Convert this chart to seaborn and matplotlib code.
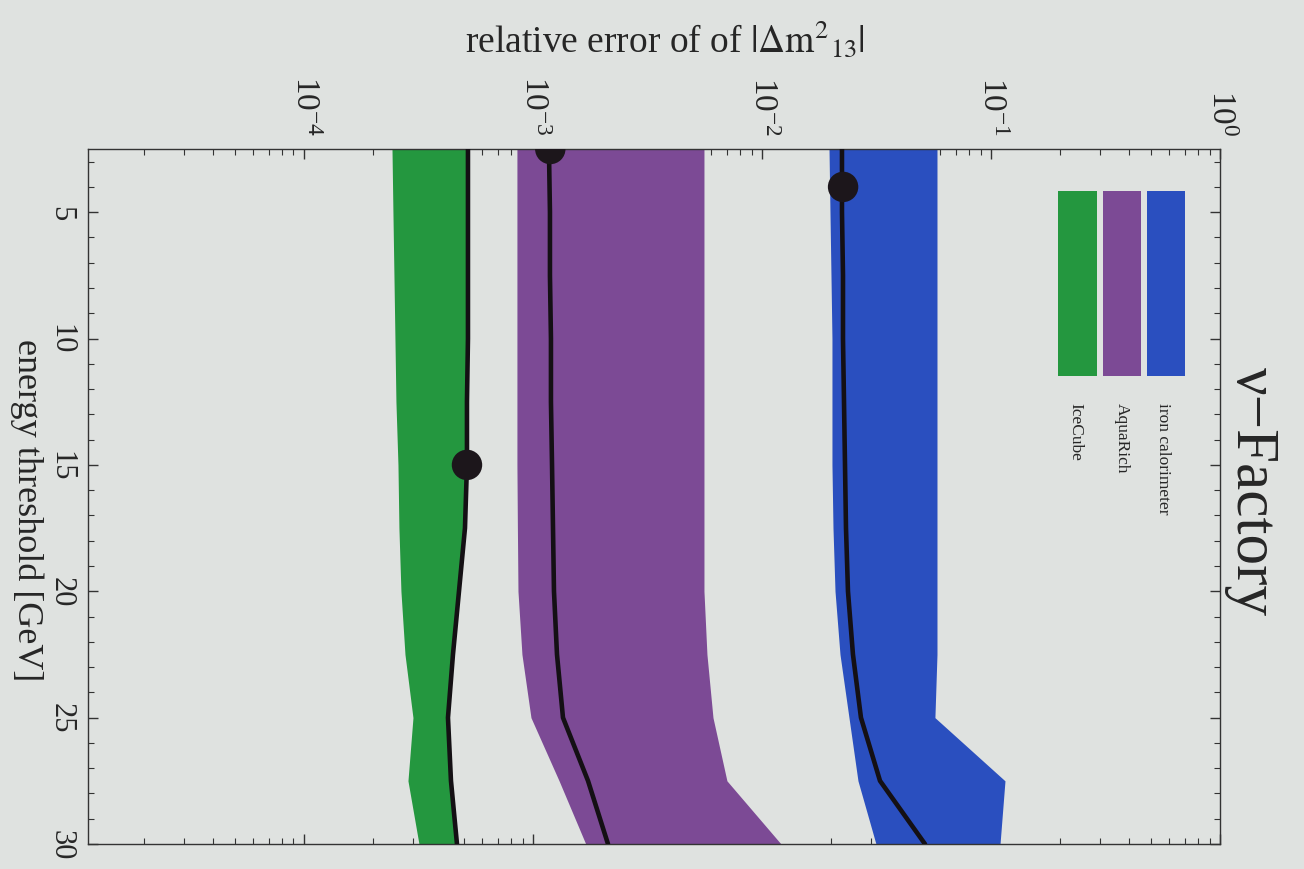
import numpy as np
import pandas as pd
import matplotlib
matplotlib.use("Agg")
import matplotlib.pyplot as plt
import seaborn as sns
from matplotlib.ticker import LogLocator, MultipleLocator, LogFormatterMathtext, NullFormatter, FixedLocator
from matplotlib.patches import Rectangle

# ---------------- data ----------------
energy = [2.5, 5, 7.5, 10, 12.5, 15, 17.5, 20, 22.5, 25, 27.5, 30]

iron_low  = [1.962e-2, 1.981e-2, 2.001e-2, 2.021e-2, 2.021e-2, 2.021e-2, 2.042e-2, 2.084e-2, 2.191e-2, 2.398e-2, 2.625e-2, 3.146e-2]
iron_mid  = [2.235e-2, 2.235e-2, 2.258e-2, 2.258e-2, 2.281e-2, 2.304e-2, 2.327e-2, 2.374e-2, 2.496e-2, 2.705e-2, 3.276e-2, 5.149e-2]
iron_high = [5.81e-2, 5.81e-2, 5.81e-2, 5.81e-2, 5.81e-2, 5.81e-2, 5.81e-2, 5.81e-2, 5.81e-2, 5.69e-2, 1.151e-1, 1.095e-1]

aqua_low  = [8.51e-4, 8.51e-4, 8.51e-4, 8.51e-4, 8.51e-4, 8.51e-4, 8.55e-4, 8.60e-4, 8.95e-4, 9.80e-4, 1.300e-3, 1.700e-3]
aqua_mid  = [1.174e-3, 1.186e-3, 1.186e-3, 1.198e-3, 1.198e-3, 1.211e-3, 1.223e-3, 1.235e-3, 1.273e-3, 1.352e-3, 1.739e-3, 2.126e-3]
aqua_high = [5.58e-3, 5.58e-3, 5.58e-3, 5.58e-3, 5.58e-3, 5.58e-3, 5.58e-3, 5.58e-3, 5.75e-3, 6.11e-3, 7.03e-3, 1.211e-2]

ice_low   = [2.423e-4, 2.446e-4, 2.471e-4, 2.496e-4, 2.521e-4, 2.573e-4, 2.598e-4, 2.651e-4, 2.761e-4, 2.992e-4, 2.845e-4, 3.178e-4]
ice_mid   = [5.201e-4, 5.201e-4, 5.201e-4, 5.201e-4, 5.149e-4, 5.149e-4, 5.047e-4, 4.752e-4, 4.473e-4, 4.254e-4, 4.384e-4, 4.657e-4]

detectors = ["iron calorimeter", "AquaRich", "IceCube"]
dot_energy = [4.0, 2.5, 15.0]
dot_value = [2.26e-2, 1.19e-3, 5.15e-4]

x_ticks = [1e-4, 1e-3, 1e-2, 1e-1, 1e0]
y_ticks = [5, 10, 15, 20, 25, 30]

colors = {"iron calorimeter": "#2a4fbf", "AquaRich": "#7c4a95", "IceCube": "#24973f"}
bg = "#dfe2e0"

# ---------------- style ----------------
sns.set_theme(style="ticks")
plt.rcParams["font.family"] = ["Liberation Serif", "DejaVu Serif"]
plt.rcParams["mathtext.fontset"] = "stix"

fig = plt.figure(figsize=(13.04, 8.70), dpi=100, facecolor=bg)
ax = fig.add_axes([88 / 1304, 1 - 845 / 870, (1220 - 88) / 1304, (845 - 150) / 870])
ax.set_facecolor(bg)

bands = {
    "iron calorimeter": (iron_low, iron_mid, iron_high),
    "AquaRich": (aqua_low, aqua_mid, aqua_high),
    "IceCube": (ice_low, ice_mid, ice_mid),
}

rows = []
for name, (lo, mid, hi) in bands.items():
    ax.fill_betweenx(energy, lo, hi, color=colors[name], lw=0, zorder=1)
    for e, m in zip(energy, mid):
        rows.append({"detector": name, "energy": e, "value": m})
df = pd.DataFrame(rows)

sns.lineplot(data=df, x="value", y="energy", units="detector", estimator=None,
             orient="y", sort=False, color="#141014", lw=3.3, ax=ax, zorder=3)

dots = pd.DataFrame({"detector": detectors, "energy": dot_energy, "value": dot_value})
sns.scatterplot(data=dots, x="value", y="energy", color="#1c161b", s=480,
                edgecolor="none", ax=ax, zorder=4, clip_on=True, legend=False)

ax.set_xscale("log")
ax.set_xlim(1.14e-5, 1.0)
ax.set_ylim(30, 2.5)

# ticks
ax.xaxis.set_major_locator(FixedLocator(x_ticks))
ax.xaxis.set_minor_locator(LogLocator(base=10, subs=np.arange(2, 10), numticks=20))
ax.xaxis.set_major_formatter(LogFormatterMathtext())
ax.xaxis.set_minor_formatter(NullFormatter())
ax.yaxis.set_major_locator(FixedLocator(y_ticks))
ax.yaxis.set_minor_locator(MultipleLocator(1))

ax.tick_params(which="both", direction="in", top=True, bottom=True, left=True, right=True,
               color="#333333")
ax.tick_params(which="major", length=7, width=1)
ax.tick_params(which="minor", length=4, width=0.8)
ax.tick_params(axis="x", labeltop=True, labelbottom=False, labelsize=24, pad=10)
ax.tick_params(axis="y", labelsize=22, pad=9)
for lab in ax.get_xticklabels():
    lab.set_rotation(-90)
    lab.set_va("bottom")
    lab.set_ha("center")
for lab in ax.get_yticklabels():
    lab.set_rotation(-90)
    lab.set_va("center")
    lab.set_ha("right")

for sp in ax.spines.values():
    sp.set_color("#333333")
    sp.set_linewidth(1.0)

ax.xaxis.set_label_position("top")
ax.set_xlabel(r"relative error of of $|\Delta\mathrm{m}^{2}{}_{13}|$", fontsize=27)
ax.xaxis.set_label_coords(0.51, 1.141)
ax.set_ylabel("energy threshold [GeV]", fontsize=26, rotation=-90)
ax.yaxis.set_label_coords(-0.054, 0.482)
ax.yaxis.label.set_va("center")

# title (outside right)
fig.text(1252 / 1304, 1 - 492 / 870, "ν\u2212Factory", rotation=-90, fontsize=44,
         ha="center", va="center")

# legend drawn as rotated colour bars
leg = [("iron calorimeter", 0.9355, 0.969, 0.9496),
       ("AquaRich", 0.8966, 0.930, 0.9134),
       ("IceCube", 0.857, 0.891, 0.872)]
for name, x0, x1, xt in leg:
    ax.add_patch(Rectangle((x0, 0.6734), x1 - x0, 0.9396 - 0.6734, transform=ax.transAxes,
                           color=colors[name], lw=0, zorder=5))
    ax.text(xt, 0.636, name, transform=ax.transAxes, rotation=-90, fontsize=12.5,
            ha="center", va="top", zorder=5)

fig.savefig("out.png", dpi=100, facecolor=bg)
